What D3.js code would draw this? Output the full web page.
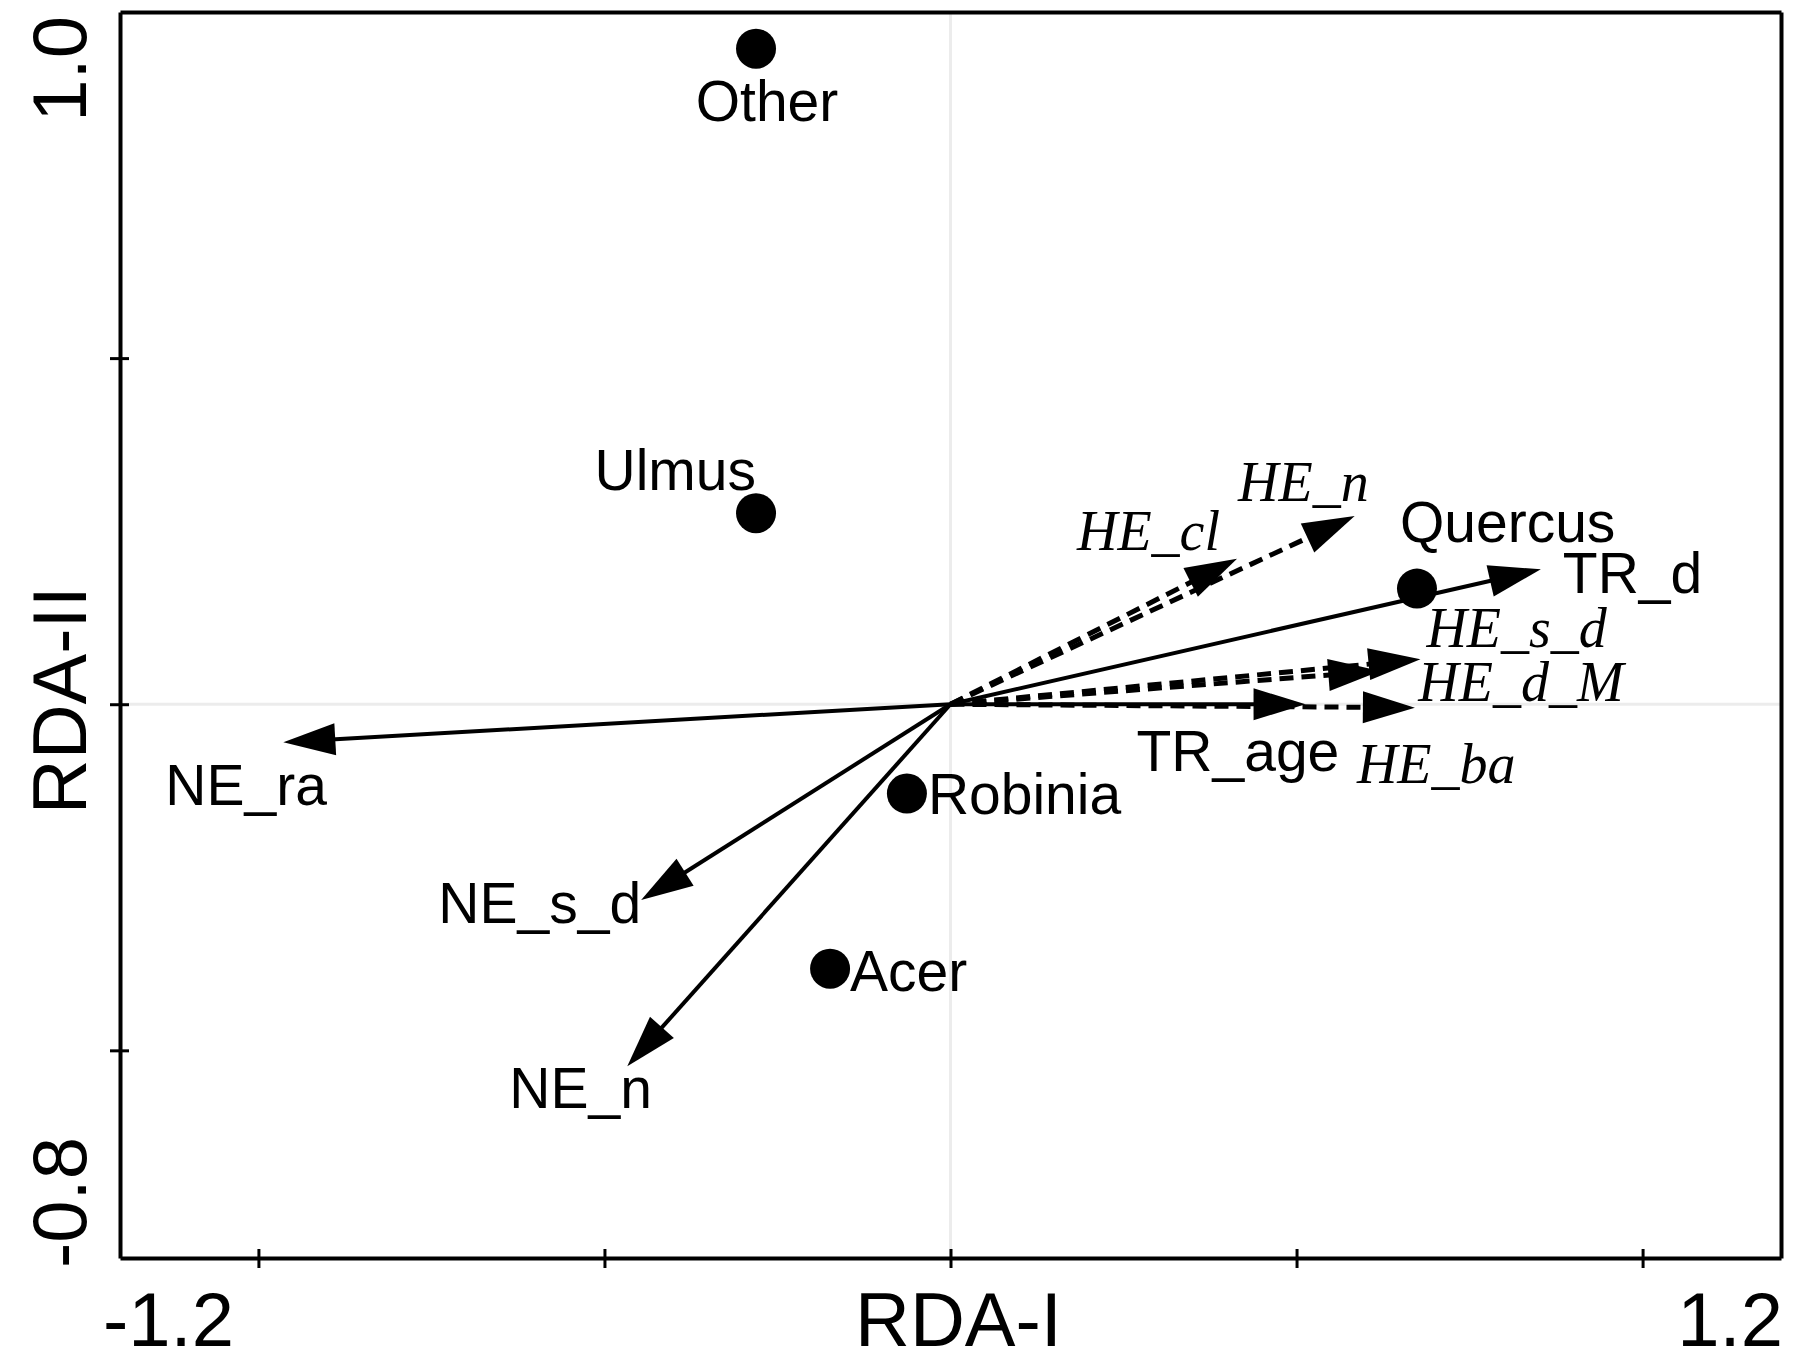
<!DOCTYPE html>
<html>
<head>
<meta charset="utf-8">
<script src="https://cdn.jsdelivr.net/npm/d3@7"></script>
<style>
  html, body { margin: 0; padding: 0; background: #fff; }
  svg { display: block; }
</style>
</head>
<body>
<svg id="chart" width="1796" height="1364"></svg>
<script>
// ---------------- DATA ----------------
const speciesNames = ["Other", "Ulmus", "Quercus", "Robinia", "Acer"];
const speciesX     = [-0.281, -0.281, 0.674, -0.063, -0.174];
const speciesY     = [ 0.947,  0.276, 0.167, -0.129, -0.382];

const envNames = ["TR_d", "TR_age", "NE_ra", "NE_s_d", "NE_n", "HE_cl", "HE_n", "HE_s_d", "HE_d_M", "HE_ba"];
const envX     = [0.853, 0.513, -0.964, -0.447, -0.467, 0.414, 0.584, 0.679, 0.621, 0.671];
const envY     = [0.195, 0.000, -0.055, -0.283, -0.523, 0.210, 0.272, 0.065, 0.048, -0.005];
const envGroup = ["TR", "TR", "NE", "NE", "NE", "HE", "HE", "HE", "HE", "HE"];

const xDomain = [-1.2, 1.2];
const yDomain = [-0.8, 1.0];
const xTickValues = [-1.0, -0.5, 0, 0.5, 1.0];
const yTickValues = [-0.5, 0, 0.5];
const xEndLabels = ["-1.2", "1.2"];
const yEndLabels = ["-0.8", "1.0"];
const xTitle = "RDA-I";
const yTitle = "RDA-II";

// ---------------- LAYOUT (label offsets in px) ----------------
const speciesLabelLayout = {
  "Other":   {dx: 11,  dy: 72,  anchor: "middle"},
  "Ulmus":   {dx: 0,   dy: -23, anchor: "end"},
  "Quercus": {dx: -17, dy: -47, anchor: "start"},
  "Robinia": {dx: 21,  dy: 20,  anchor: "start"},
  "Acer":    {dx: 20,  dy: 22,  anchor: "start"}
};
const envLabelLayout = {
  "TR_d":   {dx: 22,   dy: 24,  anchor: "start"},
  "TR_age": {dx: -169, dy: 67,  anchor: "start"},
  "NE_ra":  {dx: -118, dy: 63,  anchor: "start"},
  "NE_s_d": {dx: 0,    dy: 23,  anchor: "end"},
  "NE_n":   {dx: -118, dy: 42,  anchor: "start"},
  "HE_cl":  {dx: -17,  dy: -9,  anchor: "end"},
  "HE_n":   {dx: 14,   dy: -15, anchor: "end"},
  "HE_s_d": {dx: 6,    dy: -12, anchor: "start"},
  "HE_d_M": {dx: 38,   dy: 30,  anchor: "start"},
  "HE_ba":  {dx: -58,  dy: 75,  anchor: "start"}
};

const plotLeft = 120, plotRight = 1781, plotTop = 12, plotBottom = 1258;
const sansFont = "'Liberation Sans', Arial, Helvetica, sans-serif";
const serifFont = "'Liberation Serif', 'Times New Roman', Times, serif";

const svg = d3.select("#chart");
const x = d3.scaleLinear().domain(xDomain).range([plotLeft, plotRight]);
const y = d3.scaleLinear().domain(yDomain).range([plotBottom, plotTop]);

// zero lines
svg.append("line").attr("x1", plotLeft).attr("x2", plotRight).attr("y1", y(0)).attr("y2", y(0))
  .attr("stroke", "#ececec").attr("stroke-width", 3);
svg.append("line").attr("x1", x(0)).attr("x2", x(0)).attr("y1", plotTop).attr("y2", plotBottom)
  .attr("stroke", "#ececec").attr("stroke-width", 3);

// axes
const xAxis = svg.append("g").attr("transform", `translate(0,${plotBottom})`)
  .call(d3.axisBottom(x).tickValues(xTickValues).tickFormat("").tickSizeOuter(0).tickSizeInner(10));
xAxis.selectAll(".tick line").attr("y1", -9).attr("stroke-width", 3);
xAxis.select(".domain").attr("stroke-width", 4);

const yAxis = svg.append("g").attr("transform", `translate(${plotLeft},0)`)
  .call(d3.axisLeft(y).tickValues(yTickValues).tickFormat("").tickSizeOuter(0).tickSizeInner(10));
yAxis.selectAll(".tick line").attr("x1", 9).attr("x2", -10).attr("stroke-width", 3);
yAxis.select(".domain").attr("stroke-width", 4);

svg.append("g").attr("transform", `translate(0,${plotTop})`)
  .call(d3.axisTop(x).tickValues([]).tickSizeOuter(0))
  .select(".domain").attr("stroke-width", 4);
svg.append("g").attr("transform", `translate(${plotRight},0)`)
  .call(d3.axisRight(y).tickValues([]).tickSizeOuter(0))
  .select(".domain").attr("stroke-width", 4);

// axis end labels and titles
const axisFont = 76;
svg.append("text").attr("x", plotLeft - 17).attr("y", 1346).attr("text-anchor", "start")
  .attr("font-family", sansFont).attr("font-size", axisFont).text(xEndLabels[0]);
svg.append("text").attr("x", plotRight + 2).attr("y", 1346).attr("text-anchor", "end")
  .attr("font-family", sansFont).attr("font-size", axisFont).text(xEndLabels[1]);
svg.append("text").attr("x", x(0) + 8).attr("y", 1346).attr("text-anchor", "middle")
  .attr("font-family", sansFont).attr("font-size", axisFont).text(xTitle);

svg.append("text").attr("transform", `translate(86,${plotBottom + 10}) rotate(-90)`).attr("text-anchor", "start")
  .attr("font-family", sansFont).attr("font-size", axisFont).text(yEndLabels[0]);
svg.append("text").attr("transform", `translate(86,${plotTop + 4}) rotate(-90)`).attr("text-anchor", "end")
  .attr("font-family", sansFont).attr("font-size", axisFont).text(yEndLabels[1]);
svg.append("text").attr("transform", `translate(86,${y(0) - 4}) rotate(-90)`).attr("text-anchor", "middle")
  .attr("font-family", sansFont).attr("font-size", axisFont).text(yTitle);

// arrows
const env = envNames.map((n, i) => ({name: n, vx: envX[i], vy: envY[i], group: envGroup[i]}));
const headLen = 52, headHalf = 16;
const ox = x(0), oy = y(0);
const arrowG = svg.append("g");
env.forEach(d => {
  const tx = x(d.vx), ty = y(d.vy);
  const dxp = tx - ox, dyp = ty - oy;
  const L = Math.hypot(dxp, dyp);
  const ux = dxp / L, uy = dyp / L;
  const bx = tx - ux * headLen, by = ty - uy * headLen;
  const dashed = d.group === "HE";
  arrowG.append("line")
    .attr("x1", ox).attr("y1", oy).attr("x2", bx + ux * 4).attr("y2", by + uy * 4)
    .attr("stroke", "#000")
    .attr("stroke-width", dashed ? 5 : 4)
    .attr("stroke-dasharray", dashed ? "14,8" : null);
  const px = -uy, py = ux;
  arrowG.append("path")
    .attr("d", `M${tx},${ty} L${bx + px * headHalf},${by + py * headHalf} L${bx - px * headHalf},${by - py * headHalf} Z`)
    .attr("fill", "#000");
});

// env labels
env.forEach(d => {
  const lay = envLabelLayout[d.name];
  const italic = d.group === "HE";
  svg.append("text")
    .attr("x", x(d.vx) + lay.dx).attr("y", y(d.vy) + lay.dy)
    .attr("text-anchor", lay.anchor)
    .attr("font-family", italic ? serifFont : sansFont)
    .attr("font-style", italic ? "italic" : "normal")
    .attr("font-size", italic ? 56 : 57)
    .attr("fill", "#000")
    .text(d.name);
});

// species points
const species = speciesNames.map((n, i) => ({name: n, vx: speciesX[i], vy: speciesY[i]}));
svg.append("g").selectAll("circle").data(species).join("circle")
  .attr("cx", d => x(d.vx)).attr("cy", d => y(d.vy)).attr("r", 20).attr("fill", "#000");
svg.append("g").selectAll("text").data(species).join("text")
  .attr("x", d => x(d.vx) + speciesLabelLayout[d.name].dx)
  .attr("y", d => y(d.vy) + speciesLabelLayout[d.name].dy)
  .attr("text-anchor", d => speciesLabelLayout[d.name].anchor)
  .attr("font-family", sansFont).attr("font-size", 57).attr("fill", "#000")
  .text(d => d.name);
</script>
</body>
</html>
